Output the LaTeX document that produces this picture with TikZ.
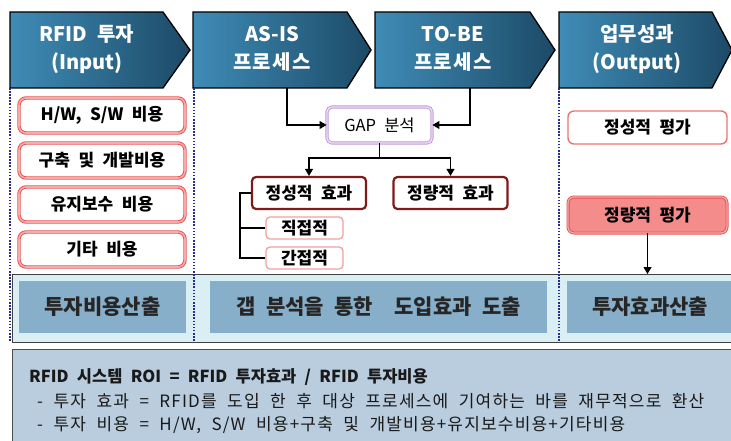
\documentclass[tikz,border=0pt]{standalone}
\usepackage{fontspec}
\setmainfont{Noto Sans CJK KR}[WordSpace=2.2]
\newfontfamily\notefont{Noto Sans CJK KR}[WordSpace=2.1, LetterSpace=7]
\newfontfamily\spacedfont{Noto Sans CJK KR}[WordSpace=2.2, LetterSpace=6]
\usetikzlibrary{arrows.meta}
\definecolor{chevL}{HTML}{3F8CB7}
\definecolor{chevR}{HTML}{1C4A66}
\definecolor{boxred}{HTML}{E85050}
\definecolor{boxpink}{HTML}{F7AAAA}
\definecolor{gapline}{HTML}{C39BDA}
\definecolor{gapin}{HTML}{ECDDF5}
\definecolor{darkred}{HTML}{7E1A1A}
\definecolor{lightpink}{HTML}{F2A0A0}
\definecolor{evalfill}{HTML}{F48C8C}
\definecolor{bandfill}{HTML}{DAEFF4}
\definecolor{bandbox}{HTML}{88AFC9}
\definecolor{notefill}{HTML}{B9CDDF}
\definecolor{dotblue}{HTML}{2B2B8E}
\tikzset{
  chevshape/.style={left color=chevL, right color=chevR, draw=black, line width=1.3pt, line join=miter},
  chevtext/.style={text=white, font=\fontsize{20}{28}\selectfont\bfseries, align=center, inner sep=0pt},
  redbox/.style={draw=boxred, double=boxpink, double distance=1.6pt, line width=0.9pt, rounded corners=7pt, fill=white, font=\fontsize{17}{20}\selectfont\bfseries, inner sep=0pt, minimum width=166pt, minimum height=35pt},
  gapbox/.style={draw=gapline, double=gapin, double distance=1.4pt, line width=0.9pt, rounded corners=5pt, fill=white, font=\fontsize{16.5}{20}\selectfont, inner sep=0pt, minimum width=105pt, minimum height=36pt},
  effbox/.style={draw=darkred, line width=2.2pt, rounded corners=4pt, fill=white, font=\fontsize{17}{20}\selectfont\bfseries, inner sep=0pt, minimum width=114pt, minimum height=32pt},
  subbox/.style={draw=lightpink, line width=1.3pt, rounded corners=4pt, fill=white, font=\fontsize{17}{20}\selectfont\bfseries, inner sep=0pt, minimum width=77pt, minimum height=22pt},
  evalbox/.style={draw=boxred!80, line width=1.4pt, rounded corners=6pt, fill=white, font=\fontsize{17}{20}\selectfont\bfseries, inner sep=0pt, minimum width=159pt, minimum height=33pt},
  evalboxf/.style={evalbox, fill=evalfill, draw=boxred, double=boxpink, double distance=1.2pt, line width=0.9pt, minimum height=36pt},
  bandbx/.style={fill=bandbox, draw=none, font=\fontsize{21}{24}\selectfont\bfseries, text=black!85, inner sep=0pt, minimum height=52pt},
  conn/.style={draw=black, line width=1.1pt},
  arr/.style={conn, -{Triangle[length=7pt,width=8pt]}},
  divider/.style={draw=dotblue, line width=2pt, dash pattern=on 1.6pt off 1.5pt},
  notetext/.style={font=\fontsize{17}{20}\notefont, inner sep=0pt, anchor=base west, text=black!90}
}
\begin{document}
\begin{tikzpicture}[x=1pt,y=-1pt]
\useasboundingbox (0,0) rectangle (731,441);
\clip (0,0) rectangle (731,441);
\fill[white] (0,0) rectangle (731,441);

% header chevrons
\path[chevshape] (10,12) -- (163,12) -- (190,50) -- (163,88) -- (10,88) -- cycle;
\path[chevshape] (193,12) -- (347,12) -- (371,50) -- (347,88) -- (193,88) -- cycle;
\path[chevshape] (375,12) -- (530,12) -- (555,50) -- (530,88) -- (375,88) -- cycle;
\path[chevshape] (559,12) -- (712,12) -- (732,50) -- (712,88) -- (559,88) -- cycle;
\node[chevtext] (h1) at (87,49) {RFID 투자\\(Input)};
\node[chevtext] (h2) at (272,49) {AS-IS\\{\spacedfont 프로세스}};
\node[chevtext] (h3) at (453,49) {TO-BE\\{\spacedfont 프로세스}};
\node[chevtext] (h4) at (637,49) {업무성과\\(Output)};
\coordinate (asisb) at (287,88);
\coordinate (tobeb) at (470,88);

% bottom band
\node[draw=black!75, line width=1pt, fill=bandfill, minimum width=740pt, minimum height=68pt, inner sep=0pt, anchor=north west] (band) at (12,274) {};
\node[bandbx, minimum width=167pt] (b1) at (102.5,307) {투자비용산출};
\node[bandbx, minimum width=337pt] (b2) at (378.5,307) {갭 분석을 통한~~도입효과 도출};
\node[bandbx, minimum width=166pt] (b3) at (650,307) {투자효과산출};

% dividers
\draw[divider] (10,88) -- (10,342);
\draw[divider] (194,88) -- (194,342);
\draw[divider] (559,88) -- (559,342);

% left column
\node[redbox] (c1) at (102,115.5) {H/W, S/W 비용};
\node[redbox] (c2) at (102,160.5) {구축 및 개발비용};
\node[redbox] (c3) at (102,204.5) {유지보수 비용};
\node[redbox] (c4) at (102,249.5) {기타 비용};

% middle
\node[gapbox] (gap) at (379.5,125) {GAP 분석};
\node[effbox] (q1) at (309,193) {정성적 효과};
\node[effbox] (q2) at (450.5,193) {정량적 효과};
\node[subbox] (d1) at (304.5,228) {직접적};
\node[subbox] (d2) at (304.5,258) {간접적};

\draw[arr] (asisb) |- (gap.west);
\draw[arr] (tobeb) |- (gap.east);
\draw[conn] (gap.south) -- (379.5,158) coordinate (jn);
\draw[arr] (jn) -| (q1.north);
\draw[arr] (jn) -| (q2.north);
\coordinate (tr) at (240,193);
\draw[conn] (q1.west) -- (tr) |- (d2.west);
\draw[conn] (tr |- d1.west) -- (d1.west);

% right column
\node[evalbox] (e1) at (647.5,127.5) {정성적 평가};
\node[evalboxf] (e2) at (647.5,215) {정량적 평가};
\draw[arr] (e2.south) -- (e2.south |- band.north);

% note box
\node[draw=black!70, line width=1pt, fill=notefill, minimum width=740pt, minimum height=110pt, inner sep=0pt, anchor=north west] (note) at (12,349) {};
\node[notetext, font=\fontsize{16.5}{20}\selectfont\bfseries] (n1) at (29,382) {RFID 시스템 ROI = RFID 투자효과 / RFID 투자비용};
\node[notetext] (n2) at (37,407) {- 투자 효과 = RFID를 도입 한 후 대상 프로세스에 기여하는 바를 재무적으로 환산};
\node[notetext] (n3) at (37,430) {- 투자 비용 = H/W, S/W 비용+구축 및 개발비용+유지보수비용+기타비용};
\end{tikzpicture}
\end{document}
